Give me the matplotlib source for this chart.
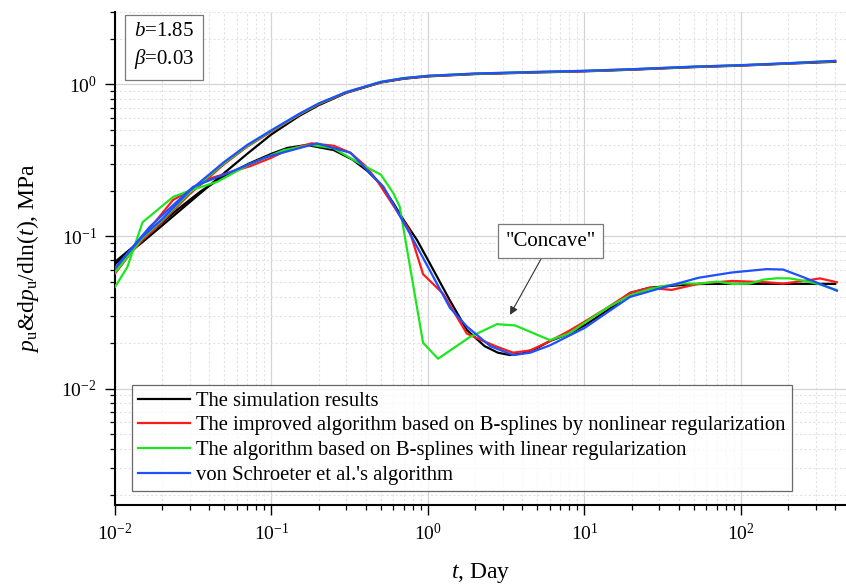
import matplotlib
matplotlib.use("Agg")
import matplotlib.pyplot as plt
from matplotlib.ticker import LogLocator, LogFormatterMathtext, NullFormatter

plt.rcParams['font.family'] = ['Liberation Serif', 'DejaVu Serif']
plt.rcParams['mathtext.fontset'] = 'custom'
plt.rcParams['mathtext.rm'] = 'Liberation Serif'
plt.rcParams['mathtext.it'] = 'Liberation Serif:italic'
plt.rcParams['mathtext.bf'] = 'Liberation Serif:bold'

# ---- data: pressure (upper) curves ----
t_up = [0.01, 0.015, 0.02, 0.03, 0.05, 0.07, 0.1, 0.15, 0.2, 0.3, 0.5, 0.7, 1, 2, 5, 10, 20, 50, 100, 200, 400]
sim_up = [0.066, 0.092, 0.118, 0.168, 0.262, 0.35, 0.47, 0.62, 0.73, 0.88, 1.03, 1.09, 1.13, 1.17, 1.2, 1.22, 1.25, 1.3, 1.33, 1.37, 1.41]
imp_up = [0.060, 0.095, 0.125, 0.19, 0.30, 0.39, 0.49, 0.63, 0.74, 0.885, 1.035, 1.095, 1.135, 1.175, 1.205, 1.225, 1.255, 1.305, 1.335, 1.375, 1.42]
lin_up = [0.058, 0.098, 0.128, 0.195, 0.305, 0.395, 0.495, 0.635, 0.745, 0.89, 1.04, 1.1, 1.14, 1.178, 1.208, 1.228, 1.258, 1.308, 1.338, 1.378, 1.425]
vs_up = [0.062, 0.1, 0.13, 0.2, 0.31, 0.4, 0.5, 0.64, 0.75, 0.89, 1.04, 1.1, 1.14, 1.18, 1.21, 1.23, 1.26, 1.31, 1.34, 1.38, 1.43]

# ---- data: derivative (lower) curves ----
t_sim = [0.01, 0.0175, 0.025, 0.035, 0.05, 0.073, 0.1, 0.126, 0.168, 0.25, 0.33, 0.41, 0.5, 0.6, 0.7, 0.85, 1.0, 1.38, 1.77, 2.3, 2.8, 3.34, 4.0, 5.0, 6.0, 8.0, 10, 13, 16, 19.5, 26, 33, 45, 55, 80, 120, 200, 300, 400]
sim_dp = [0.068, 0.11, 0.15, 0.197, 0.25, 0.304, 0.35, 0.382, 0.40, 0.37, 0.32, 0.27, 0.22, 0.166, 0.128, 0.095, 0.07, 0.038, 0.0243, 0.019, 0.0172, 0.0166, 0.0170, 0.0185, 0.0205, 0.023, 0.026, 0.031, 0.036, 0.0425, 0.046, 0.047, 0.0482, 0.0487, 0.0488, 0.0488, 0.0488, 0.0488, 0.0488]

t_imp = [0.01, 0.013, 0.0175, 0.0235, 0.03, 0.04, 0.055, 0.073, 0.1, 0.126, 0.18, 0.25, 0.32, 0.4, 0.47, 0.6, 0.76, 0.93, 1.25, 1.77, 2.15, 2.7, 3.5, 4.5, 5.9, 8, 10, 14, 19.5, 26, 36, 54, 88, 146, 186, 250, 320, 410]
imp_dp = [0.057, 0.081, 0.12, 0.174, 0.2, 0.24, 0.265, 0.29, 0.33, 0.37, 0.41, 0.395, 0.355, 0.29, 0.235, 0.16, 0.11, 0.0565, 0.042, 0.023, 0.021, 0.019, 0.0172, 0.0178, 0.0203, 0.024, 0.0275, 0.034, 0.0425, 0.046, 0.0445, 0.049, 0.051, 0.05, 0.049, 0.051, 0.053, 0.050]

t_lin = [0.01, 0.012, 0.015, 0.0235, 0.03, 0.045, 0.073, 0.12, 0.18, 0.25, 0.37, 0.5, 0.6, 0.66, 0.93, 1.16, 1.85, 2.76, 3.6, 5.4, 6.0, 8, 10, 14, 19.5, 26, 33, 43, 55, 70, 89, 114, 139, 169, 205, 250, 305, 408]
lin_dp = [0.0465, 0.063, 0.124, 0.182, 0.2, 0.229, 0.30, 0.37, 0.40, 0.38, 0.30, 0.255, 0.193, 0.157, 0.020, 0.0157, 0.0218, 0.0265, 0.026, 0.0218, 0.0208, 0.023, 0.027, 0.034, 0.041, 0.045, 0.0475, 0.0491, 0.049, 0.0505, 0.0487, 0.049, 0.052, 0.0531, 0.053, 0.0512, 0.049, 0.0445]

t_vs = [0.01, 0.0167, 0.0315, 0.057, 0.093, 0.195, 0.32, 0.52, 0.76, 1.0, 1.38, 1.77, 2.5, 3.5, 4.5, 6.0, 10, 19.5, 33, 54, 88, 146, 186, 250, 410]
vs_dp = [0.062, 0.116, 0.212, 0.27, 0.333, 0.41, 0.355, 0.212, 0.106, 0.063, 0.034, 0.0256, 0.019, 0.0166, 0.0172, 0.0192, 0.025, 0.040, 0.0467, 0.0536, 0.058, 0.061, 0.0606, 0.054, 0.044]

labels = ["The simulation results",
          "The improved algorithm based on B-splines by nonlinear regularization",
          "The algorithm based on B-splines with linear regularization",
          "von Schroeter et al.'s algorithm"]
colors = ['#000000', '#ff1a1a', '#1ee61e', '#1f4fff']

W, H = 846, 588
fig = plt.figure(figsize=(W / 100, H / 100), dpi=100)
ax_l, ax_r, ax_t, ax_b = 115, 846, 11.7, 505
ax = fig.add_axes([ax_l / W, 1 - ax_b / H, (ax_r - ax_l) / W, (ax_b - ax_t) / H])

ax.set_xscale('log')
ax.set_yscale('log')
ax.set_xlim(0.01, 469)
ax.set_ylim(0.001713, 3.01)

lw = 1.6
ups = [sim_up, imp_up, lin_up, vs_up]
dps = [(t_sim, sim_dp), (t_imp, imp_dp), (t_lin, lin_dp), (t_vs, vs_dp)]
for i in range(4):
    ax.plot(t_up, ups[i], color=colors[i], lw=lw, label=labels[i], zorder=3 + i)
    ax.plot(dps[i][0], dps[i][1], color=colors[i], lw=lw, zorder=3 + i)

# grid
ax.grid(True, which='major', color='#d4d4d4', lw=0.9, ls='-')
ax.grid(True, which='minor', color='#e2e2e2', lw=0.8, ls=(0, (2, 2)))
ax.set_axisbelow(True)

for s in ['top', 'right']:
    ax.spines[s].set_visible(False)
for s in ['left', 'bottom']:
    ax.spines[s].set_linewidth(1.5)

ax.xaxis.set_major_locator(LogLocator(base=10, numticks=20))
ax.xaxis.set_minor_locator(LogLocator(base=10, subs=range(2, 10), numticks=50))
ax.yaxis.set_major_locator(LogLocator(base=10, numticks=20))
ax.yaxis.set_minor_locator(LogLocator(base=10, subs=range(2, 10), numticks=50))
ax.xaxis.set_major_formatter(LogFormatterMathtext())
ax.yaxis.set_major_formatter(LogFormatterMathtext())
ax.xaxis.set_minor_formatter(NullFormatter())
ax.yaxis.set_minor_formatter(NullFormatter())
ax.tick_params(which='major', direction='out', length=7, width=1.0, labelsize=14, pad=6)
ax.tick_params(which='minor', direction='out', length=3.5, width=0.9)

ax.set_xlabel(r'$t$, Day', fontsize=17, labelpad=12)
ax.set_ylabel(r'$p_\mathrm{u}$&d$p_\mathrm{u}$/dln($t$), MPa', fontsize=17, labelpad=15)

leg = ax.legend(loc='lower left', bbox_to_anchor=((132 - ax_l) / (ax_r - ax_l), (ax_b - 491) / (ax_b - ax_t)),
                borderaxespad=0, fontsize=14.9, frameon=True, fancybox=False, handlelength=2.5,
                handletextpad=0.3, labelspacing=0.25, borderpad=0.3)
leg.get_frame().set_edgecolor('#444444')
leg.get_frame().set_linewidth(0.9)
leg.set_zorder(20)

ax.text((164 - ax_l) / (ax_r - ax_l), (ax_b - 46.5) / (ax_b - ax_t),
        r'$b$=1.85' + '\n' + r'$\beta$=0.03', transform=ax.transAxes,
        ha='center', va='center', fontsize=15, linespacing=1.35,
        bbox=dict(boxstyle='square,pad=0.45', fc='white', ec='#7a7a7a', lw=0.9), zorder=20)

ax.annotate('"Concave"', xy=(3.34, 0.0305), xytext=(6.1, 0.093),
            fontsize=15, ha='center', va='center',
            bbox=dict(boxstyle='square,pad=0.35', fc='white', ec='#7a7a7a', lw=0.9),
            arrowprops=dict(arrowstyle='-|>', color='#333333', lw=0.8, mutation_scale=12,
                            shrinkA=0, shrinkB=0),
            zorder=20)

fig.savefig('out.png', dpi=100, facecolor='white')
